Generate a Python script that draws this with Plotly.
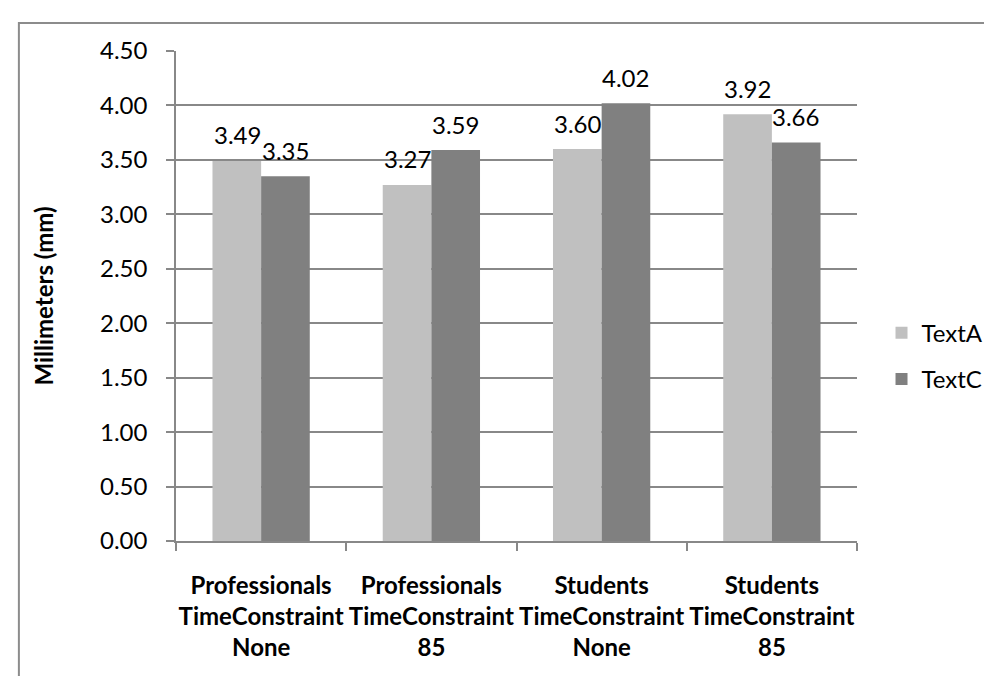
import plotly.graph_objects as go

categories = [
    "Professionals<br>TimeConstraint<br>None",
    "Professionals<br>TimeConstraint<br>85",
    "Students<br>TimeConstraint<br>None",
    "Students<br>TimeConstraint<br>85",
]
series_names = ["TextA", "TextC"]
text_a = [3.49, 3.27, 3.60, 3.92]
text_c = [3.35, 3.59, 4.02, 3.66]
y_ticks = [0, 0.5, 1.0, 1.5, 2.0, 2.5, 3.0, 3.5, 4.0, 4.5]

FONT = "Lato, 'Open Sans', sans-serif"
colors = {"TextA": "#C0C0C0", "TextC": "#808080"}
grid = "#888888"

fig = go.Figure()
for i, (name, vals) in enumerate(zip(series_names, [text_a, text_c])):
    fig.add_trace(go.Bar(
        name=name, x=categories, y=vals, legendgroup=f"g{i}",
        marker=dict(color=colors[name], line=dict(width=0)),
    ))

# data labels above each bar
shift = {"TextA": -24, "TextC": 24}
for name, vals in zip(series_names, [text_a, text_c]):
    for c, v in zip(categories, vals):
        fig.add_annotation(
            x=c, y=v, text=f"{v:.2f}", showarrow=False,
            xshift=shift[name], yshift=26, yanchor="middle",
            font=dict(family=FONT, size=24, color="#000000"),
        )

# chart-area border (cropped at right and bottom)
fig.add_shape(type="rect", xref="paper", yref="paper",
              x0=-0.2307, x1=2.0, y0=-2.0, y1=1.0571,
              line=dict(color="#8c8c8c", width=2), fillcolor="rgba(0,0,0,0)")

fig.update_layout(
    width=992, height=676,
    margin=dict(l=168, r=139, t=43, b=143),
    paper_bgcolor="white", plot_bgcolor="white",
    barmode="group", bargap=0.4286, bargroupgap=0,
    font=dict(family=FONT, size=24, color="#000000"),
    showlegend=True,
    legend=dict(x=1.036, y=0.47, xanchor="left", yanchor="top",
                tracegroupgap=12,
                font=dict(family=FONT, size=24, color="#000000"),
                bgcolor="rgba(0,0,0,0)"),
    xaxis=dict(
        type="category", showgrid=False, showline=True, linecolor=grid, linewidth=1.5,
        ticks="outside", tickson="boundaries", ticklen=8, tickcolor=grid, tickwidth=1.5,
        tickfont=dict(family=FONT, size=24, color="#000000", weight="bold"),
        ticklabelstandoff=22, tickangle=0, automargin=False,
    ),
    yaxis=dict(
        range=[0, 4.5], tickvals=y_ticks, ticktext=[f"{t:.2f}" for t in y_ticks],
        showgrid=True, gridcolor=grid, gridwidth=1.5,
        showline=True, linecolor=grid, linewidth=1.5,
        ticks="outside", ticklen=8, tickcolor=grid, tickwidth=1.5,
        tickfont=dict(family=FONT, size=24, color="#000000"),
        ticklabelstandoff=14, zeroline=False, automargin=False,
        title=dict(text="<b>Millimeters (mm)</b>", font=dict(family=FONT, size=24), standoff=40),
    ),
)

fig.write_html("out.html")
